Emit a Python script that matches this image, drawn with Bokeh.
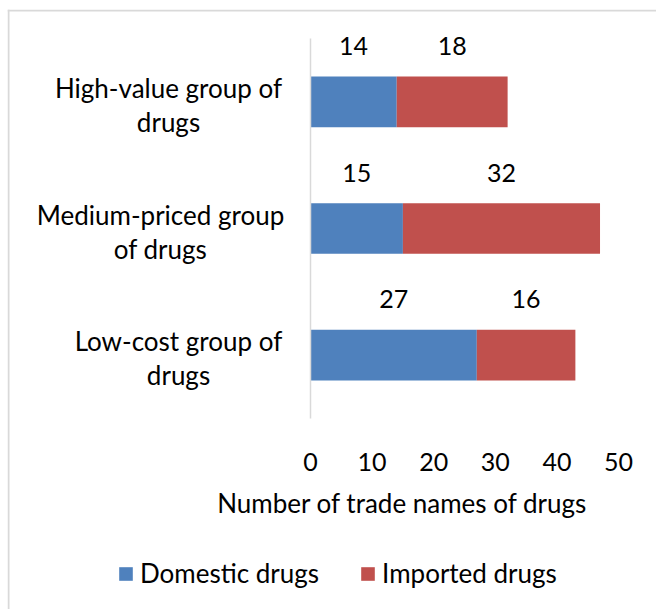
from bokeh.plotting import figure
from bokeh.models import (Range1d, Label, Legend, LegendItem, Span,
                          ColumnDataSource, FixedTicker)
from bokeh.core.properties import value
from bokeh.embed import file_html
from bokeh.resources import INLINE

# ---- data ----
categories = ["High-value group of drugs", "Medium-priced group of drugs", "Low-cost group of drugs"]
category_lines = [["High-value group of", "drugs"],
                  ["Medium-priced group", "of drugs"],
                  ["Low-cost group of", "drugs"]]
domestic = [14, 15, 27]
imported = [18, 32, 16]
x_ticks = [0, 10, 20, 30, 40, 50]
series_names = ["Domestic drugs", "Imported drugs"]
x_title = "Number of trade names of drugs"

# ---- styling / layout ----
FONT = "Lato"
BIG = "26px"
NUM = "25px"
BLUE = "#4F81BD"
RED = "#C0504D"
GRID = "#D9D9D9"
W, H = 656, 609
FL, FT = 7, 9                    # frame left / top (chart border)
X0_PX, X50_PX = 310, 618         # pixel of x=0 and x=50
Y_TOP_PX, Y_BOT_PX = 38, 418     # pixel of plot area top / bottom
CAT_CENTER_PX = [168, 160, 178]  # horizontal centre of each category label block
n = len(categories)

xs = (X50_PX - X0_PX) / 50.0
ys = (Y_BOT_PX - Y_TOP_PX) / n
def px_x(px):
    return (px - X0_PX) / xs
def px_y(py):
    return (py - Y_TOP_PX) / ys

pos = [i + 0.5 for i in range(n)]
total = [d + m for d, m in zip(domestic, imported)]

src = ColumnDataSource(dict(
    y=pos, dom=domestic, imp=imported, total=total, zero=[0] * n,
    dom_c=[d / 2 for d in domestic],
    imp_c=[d + m / 2 for d, m in zip(domestic, imported)],
    dom_t=[str(v) for v in domestic], imp_t=[str(v) for v in imported],
))

p = figure(width=W, height=H,
           x_range=Range1d(px_x(FL), px_x(W)), y_range=Range1d(px_y(H), px_y(FT)),
           output_backend="svg", toolbar_location=None,
           min_border_left=FL, min_border_right=0, min_border_top=FT, min_border_bottom=0)
p.outline_line_color = None
p.xgrid.visible = False
p.ygrid.visible = False

r1 = p.hbar(y="y", left="zero", right="dom", height=0.4, source=src, fill_color=BLUE, line_color=None)
r2 = p.hbar(y="y", left="dom", right="total", height=0.4, source=src, fill_color=RED, line_color=None)

# axes (placed inside the frame)
p.yaxis.fixed_location = 0
p.yaxis.bounds = (0, n)
p.yaxis.ticker = FixedTicker(ticks=[])
p.yaxis.axis_line_color = GRID
p.yaxis.axis_line_width = 1.5
p.yaxis.major_tick_line_color = None
p.yaxis.minor_tick_line_color = None
p.yaxis.major_label_text_font_size = "0px"

p.xaxis.fixed_location = n
p.xaxis.bounds = (x_ticks[0], x_ticks[-1])
p.xaxis.ticker = FixedTicker(ticks=x_ticks)
p.xaxis.axis_line_color = None
p.xaxis.major_tick_line_color = None
p.xaxis.minor_tick_line_color = None
p.xaxis.major_label_standoff = 28
p.xaxis.major_label_text_font = FONT
p.xaxis.major_label_text_font_size = NUM
p.xaxis.major_label_text_color = "#000000"

# data labels
for col_x, col_t in (("dom_c", "dom_t"), ("imp_c", "imp_t")):
    p.text(x=col_x, y="y", text=col_t, source=src, y_offset=-56,
           text_align="center", text_baseline="middle",
           text_font=value(FONT), text_font_size=NUM, text_color="#000000")

# category labels (two lines each)
for yy, lines, cx in zip(pos, category_lines, CAT_CENTER_PX):
    for k, line in enumerate(lines):
        p.add_layout(Label(x=px_x(cx), y=yy, y_offset=(14 if k == 0 else -20),
                           text=line, text_align="center", text_baseline="middle",
                           text_font=FONT, text_font_size=BIG, text_color="#000000"))

# axis title
p.add_layout(Label(x=px_x(402), y=px_y(502), text=x_title,
                   text_align="center", text_baseline="middle",
                   text_font=FONT, text_font_size=BIG, text_color="#000000"))

# legend
legend = Legend(items=[LegendItem(label=series_names[0], renderers=[r1]),
                       LegendItem(label=series_names[1], renderers=[r2])],
                location=(117 - FL, H - 589), orientation="horizontal",
                border_line_color=None, background_fill_alpha=0,
                padding=0, margin=0, spacing=40, label_standoff=6,
                glyph_width=17, glyph_height=17,
                label_text_font=FONT, label_text_font_size=BIG, label_text_color="#000000")
p.add_layout(legend)

# chart border (left and top edges)
p.add_layout(Span(location=1, location_units="screen", dimension="height",
                  line_color=GRID, line_width=2))
p.add_layout(Span(location=H - FT - 1, location_units="screen", dimension="width",
                  line_color=GRID, line_width=2))

open("out.html", "w").write(file_html(p, INLINE))
